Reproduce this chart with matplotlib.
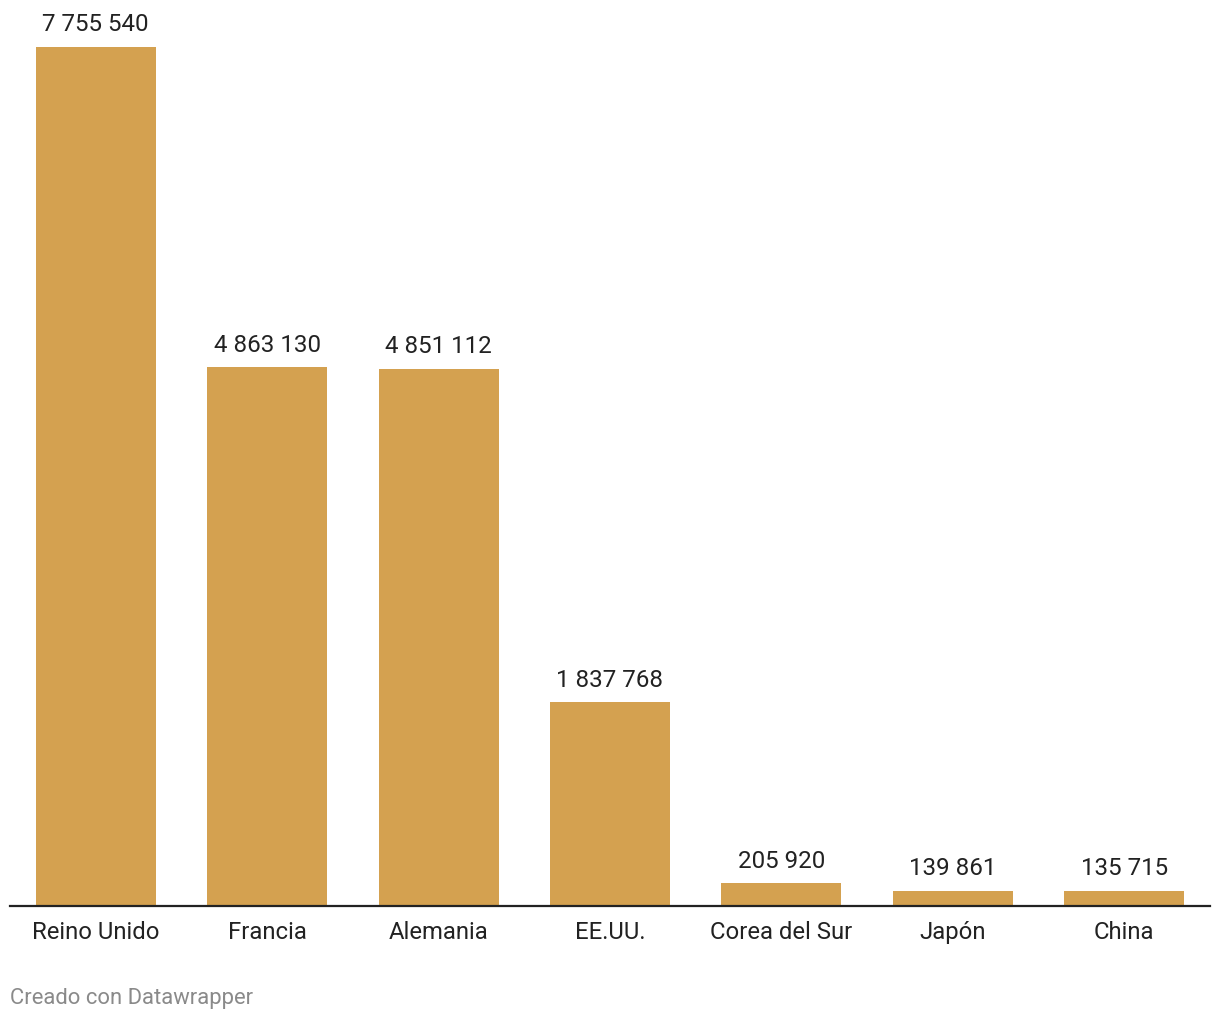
import matplotlib.pyplot as plt

countries = ["Reino Unido", "Francia", "Alemania", "EE.UU.", "Corea del Sur", "Japón", "China"]
values = [7755540, 4863130, 4851112, 1837768, 205920, 139861, 135715]

plt.rcParams['font.family'] = ['Roboto', 'DejaVu Sans']

fig = plt.figure(figsize=(12.2, 10.2), dpi=100)
ax = fig.add_axes([10 / 1220, 113 / 1020, 1200 / 1220, 859 / 1020])

bar_color = "#d4a150"
x = list(range(len(countries)))
ax.bar(x, values, width=0.7, color=bar_color, zorder=2)
ax.set_xlim(-0.5, len(countries) - 0.5)
ax.set_ylim(0, max(values))

for xi, v in zip(x, values):
    label = "{:,}".format(v).replace(",", " ")
    ax.annotate(label, xy=(xi, v), xytext=(0, 8.3), textcoords="offset points",
                ha="center", va="bottom", fontsize=17.4, color="#222222",
                annotation_clip=False)

ax.set_xticks(x)
ax.set_xticklabels(countries, fontsize=17.2, color="#222222")
ax.tick_params(axis="x", length=0, pad=10)
ax.set_yticks([])
for s in ["top", "right", "left"]:
    ax.spines[s].set_visible(False)
ax.spines["bottom"].set_color("#222222")
ax.spines["bottom"].set_linewidth(1.6)
ax.spines["bottom"].set_zorder(3)

fig.text(10 / 1220, 1 - 1004 / 1020, "Creado con Datawrapper", fontsize=15.8,
         color="#8a8a8a", ha="left", va="baseline")

fig.savefig("out.png", dpi=100)
